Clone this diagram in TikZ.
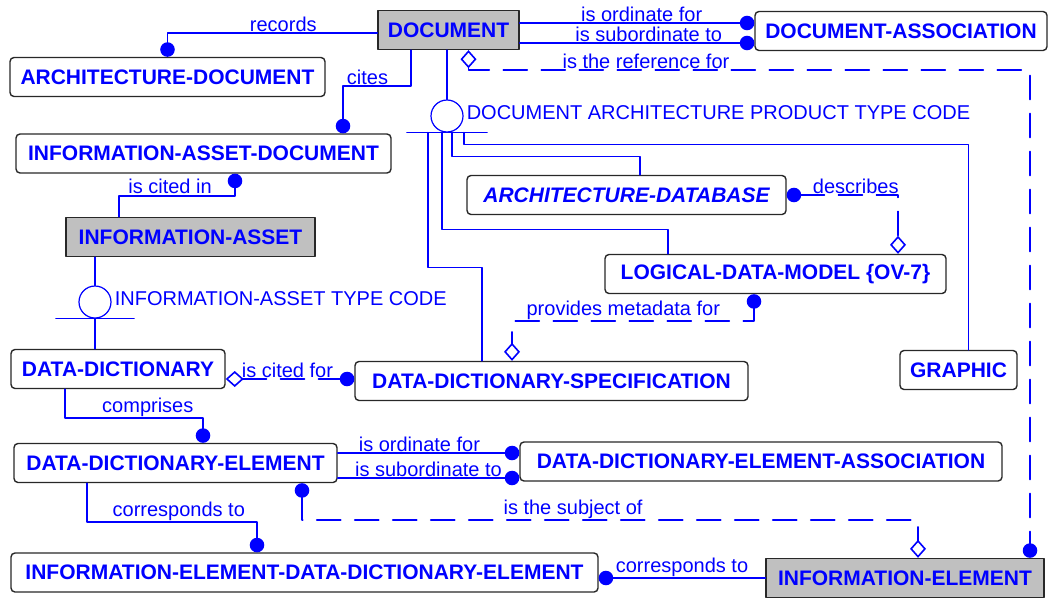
\documentclass[tikz,border=0pt]{standalone}
\usepackage{fontspec}
\setmainfont{Liberation Sans}
\usepackage{tikz}
\usetikzlibrary{arrows.meta}
\usetikzlibrary{positioning}
\definecolor{erblue}{RGB}{0,0,255}
\definecolor{erframe}{RGB}{40,40,40}
\definecolor{ergray}{RGB}{192,192,192}
\newcommand{\entfont}{\fontsize{21}{21}\selectfont\bfseries}
\newcommand{\lblfont}{\fontsize{20}{20}\selectfont}

\begin{document}
\begin{tikzpicture}[line cap=round,line join=round,x=1pt,y=-1pt,
    ent/.style={draw=erframe,line width=1.4pt,rounded corners=4pt,fill=white,text=erblue,font=\entfont,inner sep=0pt,minimum height=39pt},
    indep/.style={ent,rounded corners=0pt,fill=ergray},
    rel/.style={draw=erblue,line width=1.6pt},
    nonid/.style={rel,dash pattern=on 24pt off 14pt},
    lbl/.style={text=erblue,font=\lblfont,inner sep=1pt},
    subcat/.style={circle,draw=erblue,line width=1.2pt,minimum size=32pt,inner sep=0pt},
    dot/.tip={Circle[length=14.5pt]},
    dia/.tip={Diamond[open,length=18pt,width=16pt]}]
      \useasboundingbox (0,0) rectangle (1051,597);
      \node[indep,minimum width=141pt] (doc) at (448.5,30) {DOCUMENT};
      \node[ent,minimum width=292pt] (docassoc) at (901,31) {DOCUMENT-ASSOCIATION};
      \node[ent,minimum width=315pt] (archdoc) at (167.5,77) {ARCHITECTURE-DOCUMENT};
      \node[ent,minimum width=375pt] (iadoc) at (203.5,153.5) {INFORMATION-ASSET-DOCUMENT};
      \node[ent,minimum width=319pt,font=\entfont\itshape] (archdb) at (626.5,195) {ARCHITECTURE-DATABASE};
      \node[indep,minimum width=249pt] (ia) at (190.5,237) {INFORMATION-ASSET};
      \node[ent,minimum width=341pt] (ldm) at (775.5,274) {LOGICAL-DATA-MODEL \{OV-7\}};
      \node[ent,minimum width=214pt] (dd) at (118,369) {DATA-DICTIONARY};
      \node[ent,minimum width=393pt] (dds) at (551.5,381) {DATA-DICTIONARY-SPECIFICATION};
      \node[ent,minimum width=117pt] (graphic) at (958.5,370) {GRAPHIC};
      \node[ent,minimum width=323pt] (dde) at (175.5,463) {DATA-DICTIONARY-ELEMENT};
      \node[ent,minimum width=482pt] (ddea) at (761,461.5) {DATA-DICTIONARY-ELEMENT-ASSOCIATION};
      \node[ent,minimum width=587pt] (iedde) at (304.5,572.5) {INFORMATION-ELEMENT-DATA-DICTIONARY-ELEMENT};
      \node[indep,minimum width=278pt] (ie) at (905,578) {INFORMATION-ELEMENT};
      \node[subcat] (dapt) at (447,116) {};
      \node[lbl,right=2pt of dapt,yshift=3pt] (daptlbl) {DOCUMENT ARCHITECTURE PRODUCT TYPE CODE};
      \node[subcat] (iatc) at (95,302) {};
      \node[lbl,right=2pt of iatc,yshift=3pt] (iatclbl) {INFORMATION-ASSET TYPE CODE};
      \draw [rel,-dot] ([yshift=-3pt]doc.west) -| node[lbl,above,pos=0.224] (lrecords) {records} (archdoc.north);
      \draw [rel,-dot] ([xshift=-37.5pt]doc.south)-- ++(0,36) -| node[lbl,above,pos=0.32] (lcites) {cites} ([xshift=139.5pt]iadoc.north);
      \draw [rel,dot-] ([xshift=31.5pt]iadoc.south)-- ++(0,22) -| node[lbl,above,pos=0.28] (lcitedin) {is cited in} ([xshift=-71.5pt]ia.north);
      \draw [rel,-dot] ([yshift=7pt]doc.east)-- node[lbl,above,pos=0.52] (lordin) {is ordinate for} ([yshift=7pt]doc.east -| docassoc.west);
      \draw [rel,-dot] ([yshift=-13pt]doc.east)-- node[lbl,above,pos=0.55] (lsubord) {is subordinate to} ([yshift=-13pt]doc.east -| docassoc.west);
      \draw [nonid,dia-dot] ([xshift=20pt]doc.south)-- ++(0,20) -| node[lbl,above,pos=0.158] (lrefer) {is the reference for} ([xshift=125pt]ie.north);
      \draw [rel] (dapt.north |- doc.south)-- (dapt.north);
      \draw [rel] ([xshift=-40pt]dapt.south)-- ([xshift=40pt]dapt.south);
      \draw [rel] ([xshift=17pt]dapt.south)-- ++(0,12) -| ([xshift=10pt]graphic.north);
      \draw [rel] ([xshift=5pt]dapt.south)-- ++(0,24) -| ([xshift=13.5pt]archdb.north);
      \draw [rel] ([xshift=-5pt]dapt.south)-- ++(0,97) -| ([xshift=-107.5pt]ldm.north);
      \draw [rel] ([xshift=-19pt]dapt.south)-- ++(0,135) -| ([xshift=-69.5pt]dds.north);
      \draw [rel] (iatc.north |- ia.south)-- (iatc.north);
      \draw [rel] ([xshift=-39pt]iatc.south)-- ([xshift=39pt]iatc.south);
      \draw [rel] (iatc.south)-- (iatc.south |- dd.north);
      \draw [nonid,dot-dia] (archdb.east) -| node[lbl,above,pos=0.31] (ldescr) {describes} ([xshift=122.5pt]ldm.north);
      \draw [nonid,dot-dia] ([xshift=-21.5pt]ldm.south)-- ++(0,27) -| node[lbl,above,pos=0.27] (lmeta) {provides metadata for} ([xshift=-39.5pt]dds.north);
      \draw [nonid,dia-dot] ([yshift=-10pt]dd.east)-- node[lbl,above,pos=0.48] (lcitedfor) {is cited for} ([yshift=-10pt]dd.east -| dds.west);
      \draw [rel,-dot] ([xshift=-53pt]dd.south)-- ++(0,29) -| node[lbl,above,pos=0.3] (lcompr) {comprises} ([xshift=27.5pt]dde.north);
      \draw [rel,-dot] ([yshift=10pt]dde.east)-- node[lbl,above,pos=0.45] (lordin2) {is ordinate for} ([yshift=10pt]dde.east -| ddea.west);
      \draw [rel,-dot] ([yshift=-15pt]dde.east)-- node[lbl,above,pos=0.5] (lsubord2) {is subordinate to} ([yshift=-15pt]dde.east -| ddea.west);
      \draw [rel,-dot] ([xshift=-88.5pt]dde.south)-- ++(0,39) -| node[lbl,above,pos=0.27] (lcorr) {corresponds to} ([xshift=-47.5pt]iedde.north);
      \draw [nonid,dot-dia] ([xshift=126.5pt]dde.south)-- ++(0,37) -| node[lbl,above,pos=0.22] (lsubj) {is the subject of} ([xshift=13pt]ie.north);
      \draw [rel,-dot] (ie.west)-- node[lbl,above,pos=0.5] (lcorr2) {corresponds to} (ie.west -| iedde.east);
    \end{tikzpicture}
\end{document}
